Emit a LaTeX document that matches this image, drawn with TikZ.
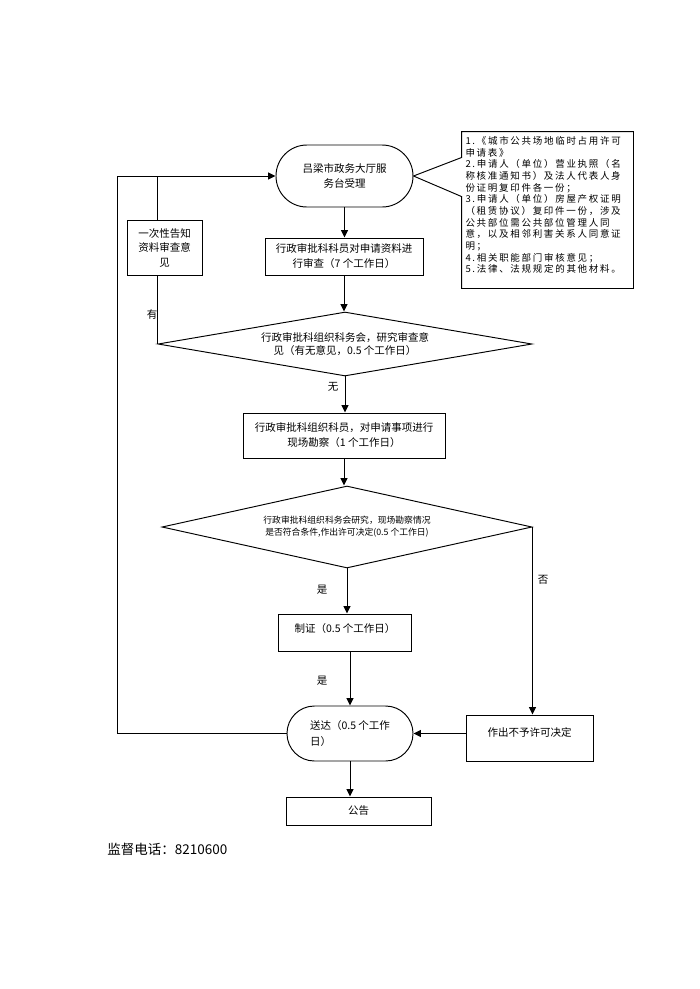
\documentclass[tikz,border=0pt]{standalone}
\usepackage{fontspec}
\setmainfont{Noto Sans CJK SC}
\newfontfamily\cjksp[LetterSpace=18]{Noto Sans CJK SC}
\usetikzlibrary{shapes.geometric,arrows.meta,calc}
\begin{document}
\begin{tikzpicture}[x=1pt,y=-1pt,
  line width=0.95pt,
  box/.style={draw,rectangle,inner sep=0pt,align=center,font=\fontsize{10.5}{15}\selectfont},
  term/.style={draw,rectangle,inner sep=0pt,align=center,font=\fontsize{10.5}{15}\selectfont},
  dia/.style={draw,diamond,inner sep=0pt,align=center},
  lbl/.style={font=\fontsize{10.5}{12}\selectfont,inner sep=0pt},
  arr/.style={-{Triangle[length=7.5pt,width=7pt]}}
]
\useasboundingbox (0,0) rectangle (700,989);
\fill[white] (0,0) rectangle (700,989);

% nodes
\node[term, minimum width=137pt, minimum height=62pt, rounded corners=30.9pt] (t1) at (344.5,176) {吕梁市政务大厅服\\务台受理};
\node[box, minimum width=158pt, minimum height=37pt] (b2) at (344,256.5) {行政审批科科员对申请资料进\\行审查（7 个工作日）};
\node[box, minimum width=75pt, minimum height=55pt, font=\fontsize{10.5}{14.5}\selectfont] (lb) at (164.5,247.5) {一次性告知\\资料审查意\\见};
\node[dia, aspect=5.8, minimum width=374pt, minimum height=64pt, font=\fontsize{10.5}{13.5}\selectfont] (d1) at (345,344) {行政审批科组织科务会，研究审查意\\见（有无意见，0.5 个工作日）};
\node[box, minimum width=202pt, minimum height=45pt] (b3) at (344,435.5) {行政审批科组织科员，对申请事项进行\\现场勘察（1 个工作日）};
\node[dia, aspect=4.5, minimum width=370pt, minimum height=82pt, font=\fontsize{8.8}{12}\selectfont] (d2) at (347,527) {行政审批科组织科务会研究，现场勘察情况\\是否符合条件,作出许可决定(0.5 个工作日)};
\node[box, minimum width=133pt, minimum height=37pt] (zz) at (345,632.5) {\raisebox{4pt}[\height][\depth]{制证（0.5 个工作日）}};
\node[term, align=left, minimum width=126pt, minimum height=55pt, rounded corners=27.4pt, font=\fontsize{10.5}{16}\selectfont] (sd) at (350,733.5) {送达（0.5 个工作\\日）};
\node[box, minimum width=127pt, minimum height=46pt] (nb) at (529.5,738) {\raisebox{6pt}[\height][\depth]{作出不予许可决定}};
\node[box, minimum width=145pt, minimum height=28pt] (gg) at (358.5,811) {公告};
\node[anchor=west, font=\fontsize{13.5}{16}\selectfont, inner sep=0pt] (jd) at (107,849) {监督电话：8210600};

% callout
\node[draw=none, minimum width=171pt, minimum height=156pt, inner sep=0pt] (cb) at (547.5,210)
 {\raisebox{5pt}[\height][\depth]{\parbox{164pt}{\cjksp\fontsize{9.5}{11.65}\selectfont
 1.《城市公共场地临时占用许可\\
 申请表》\\
 2.申请人（单位）营业执照（名\\
 称核准通知书）及法人代表人身\\
 份证明复印件各一份；\\
 3.申请人（单位）房屋产权证明\\
 （租赁协议）复印件一份，涉及\\
 公共部位需公共部位管理人同\\
 意，以及相邻利害关系人同意证\\
 明；\\
 4.相关职能部门审核意见；\\
 5.法律、法规规定的其他材料。}}};
\draw[line join=miter] (cb.north west) -- (cb.north east) -- (cb.south east) -- (cb.south west)
  -- ($(cb.north west)+(0,65)$) -- (t1.east) -- ($(cb.north west)+(0,26)$) -- cycle;

% labels
\node[lbl] (ly) at (152,314) {有};
\node[lbl] (lw) at (333,387) {无};
\node[lbl] (ls1) at (322,590) {是};
\node[lbl] (lf) at (543,580) {否};
\node[lbl] (ls2) at (322,681) {是};

% connectors
\coordinate (lx) at (117,176);
\draw[arr] (sd.west) -| (lx) -- (t1.west);
\draw (d1.west |- lb.north) -- (d1.west |- lx);
\draw (d1.west) -- (d1.west |- lb.south);
\draw[arr] (t1.south) -- (t1.south |- b2.north);
\draw[arr] (b2.south) -- (b2.south |- d1.north);
\draw[arr] (d1.south) -- (d1.south |- b3.north);
\draw[arr] (b3.south) -- (b3.south |- d2.north);
\draw[arr] (d2.south) -- (d2.south |- zz.north);
\draw[arr] (zz.south -| sd.north) -- (sd.north);
\draw[arr] (sd.south) -- (sd.south |- gg.north);
\draw[arr] (d2.east) -- (d2.east |- nb.north);
\draw[arr] (nb.west |- sd.east) -- (sd.east);
\end{tikzpicture}
\end{document}
